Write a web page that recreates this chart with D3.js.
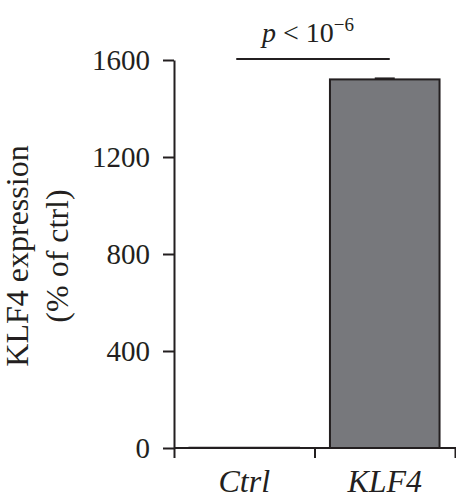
<!DOCTYPE html>
<html>
<head>
<meta charset="utf-8">
<script src="https://cdn.jsdelivr.net/npm/d3@7"></script>
<style>
  body { margin: 0; background: #fff; }
  svg text { font-family: "Liberation Serif", "Times New Roman", serif; fill: #231f20; }
</style>
</head>
<body>
<script>
// Chart data
var categories = ["Ctrl", "KLF4"];
var values = [1, 1520];
var errors = [0, 4];
var yTicks = [0, 400, 800, 1200, 1600];

var width = 456, height = 503;
var ink = "#231f20";

var svg = d3.select("body").append("svg")
    .attr("width", width)
    .attr("height", height);

// Scales
var y = d3.scaleLinear().domain([0, 1600]).range([448, 60]);

var x = d3.scaleBand()
    .domain(categories)
    .range([174, 455])
    .paddingInner(0.22)
    .paddingOuter(0.11);

// edges of each group, used for the x axis ticks
var xEdge = d3.scaleLinear().domain([0, categories.length]).range(x.range());

// Bars
svg.selectAll("rect.bar")
    .data(categories)
  .enter().append("rect")
    .attr("class", "bar")
    .attr("x", function(d) { return x(d); })
    .attr("y", function(d, i) { return y(values[i]); })
    .attr("width", x.bandwidth())
    .attr("height", function(d, i) { return y(0) - y(values[i]); })
    .style("fill", "#77787c")
    .style("stroke", ink)
    .style("stroke-width", 2);

// Error bars (upper only)
svg.selectAll("g.err")
    .data(categories.filter(function(d, i) { return errors[i] > 0; }))
  .enter().append("g")
    .attr("class", "err")
    .each(function(d) {
      var i = categories.indexOf(d);
      var cx = x(d) + x.bandwidth() / 2;
      var g = d3.select(this);
      g.append("line")
          .attr("x1", cx).attr("x2", cx)
          .attr("y1", y(values[i])).attr("y2", y(values[i] + errors[i]))
          .style("stroke", ink).style("stroke-width", 2);
      g.append("line")
          .attr("x1", cx - 10).attr("x2", cx + 10)
          .attr("y1", y(values[i] + errors[i])).attr("y2", y(values[i] + errors[i]))
          .style("stroke", ink).style("stroke-width", 2);
    });

// Y axis
var yAxis = svg.append("g")
    .attr("transform", "translate(174,0)")
    .call(d3.axisLeft(y).tickValues(yTicks).tickFormat(d3.format("d"))
      .tickSize(11).tickSizeOuter(0).tickPadding(13));

yAxis.selectAll("text")
    .style("font-size", "29px")
    .attr("dy", "0.34em");

// X axis
var xAxis = svg.append("g")
    .attr("transform", "translate(0,448)")
    .call(d3.axisBottom(xEdge).tickValues(d3.range(categories.length + 1)).tickSize(10).tickSizeOuter(0).tickFormat(""));

xAxis.select(".domain").attr("d", "M174,0H456");

svg.selectAll(".domain, .tick line")
    .style("stroke", ink)
    .style("stroke-width", 2);

// X labels
svg.selectAll("text.xlab")
    .data(categories)
  .enter().append("text")
    .attr("class", "xlab")
    .attr("x", function(d) { return x(d) + x.bandwidth() / 2; })
    .attr("y", 492)
    .attr("text-anchor", "middle")
    .style("font-size", "32px")
    .style("font-style", "italic")
    .text(function(d) { return d; });

// Y axis title
var ytitle = svg.append("text")
    .attr("transform", "translate(28,256) rotate(-90)")
    .attr("text-anchor", "middle")
    .style("font-size", "32px");
ytitle.append("tspan").attr("x", 0).attr("y", 0).text("KLF4 expression");
ytitle.append("tspan").attr("x", 0).attr("y", 40).text("(% of ctrl)");

// Significance bracket
svg.append("line")
    .attr("x1", x("Ctrl") + x.bandwidth() / 2 - 8)
    .attr("x2", x("KLF4") + x.bandwidth() / 2 + 5)
    .attr("y1", 59).attr("y2", 59)
    .style("stroke", ink)
    .style("stroke-width", 2);

var ptext = svg.append("text")
    .attr("x", 308)
    .attr("y", 42)
    .attr("text-anchor", "middle")
    .style("font-size", "28px");
ptext.append("tspan").style("font-style", "italic").text("p");
ptext.append("tspan").text(" < 10");
ptext.append("tspan").attr("dy", -11).style("font-size", "19px").text("\u22126");
</script>
</body>
</html>
